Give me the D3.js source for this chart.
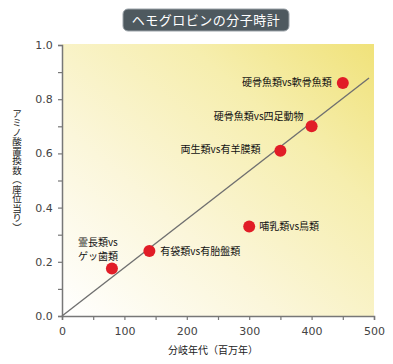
<!DOCTYPE html>
<html>
<head>
<meta charset="utf-8">
<script src="https://cdn.jsdelivr.net/npm/d3@7"></script>
<style>
  body { margin: 0; background: #fff; }
  svg { display: block; font-family: "Noto Sans CJK JP", "Noto Sans", sans-serif; }
</style>
</head>
<body>
<svg id="chart" width="393" height="364"></svg>
<script>
// comparisons (pairs of lineages)
const pairs = ["硬骨魚類vs軟骨魚類", "硬骨魚類vs四足動物", "両生類vs有羊膜類", "哺乳類vs鳥類", "有袋類vs有胎盤類", "霊長類vs\nゲッ歯類"]
const divergence = [450, 400, 350, 300, 140, 80]          // million years
const substitutions = [0.86, 0.70, 0.61, 0.33, 0.24, 0.175] // per site
const trendX = [0, 492]
const trendY = [0, 0.878]
const xTicks = [0, 100, 200, 300, 400, 500]
const yTicks = [0, 0.2, 0.4, 0.6, 0.8, 1.0]

// where each label sits relative to its dot
const labelPlace = [
    { anchor: "end", dx: -11, dy: 0 },
    { anchor: "end", dx: -8, dy: -10 },
    { anchor: "end", dx: -20, dy: -1 },
    { anchor: "start", dx: 10, dy: 0 },
    { anchor: "start", dx: 11, dy: 1 },
    { anchor: "start", dx: -34, dy: -26 }
]

const svg = d3.select("#chart")
const margin = { left: 62, right: 19, top: 45, bottom: 48 }
const width = 393 - margin.left - margin.right
const height = 364 - margin.top - margin.bottom

const x = d3.scaleLinear().domain([0, 500]).range([margin.left, margin.left + width])
const y = d3.scaleLinear().domain([0, 1]).range([margin.top + height, margin.top])

// background gradient
const defs = svg.append("defs")
const grad = defs.append("linearGradient").attr("id", "bg")
    .attr("x1", "0").attr("y1", "1").attr("x2", "1").attr("y2", "0")
grad.append("stop").attr("offset", "0").attr("stop-color", "#ffffff")
grad.append("stop").attr("offset", "0.35").attr("stop-color", "#fbf6da")
grad.append("stop").attr("offset", "0.7").attr("stop-color", "#f6eeae")
grad.append("stop").attr("offset", "1").attr("stop-color", "#f0e27a")

svg.append("rect")
    .attr("x", x(0)).attr("y", y(1) - 1)
    .attr("width", x(500) - x(0)).attr("height", y(0) - y(1) + 1)
    .attr("fill", "url(#bg)")

// title
const title = svg.append("g")
title.append("rect")
    .attr("x", 123).attr("y", 9).attr("width", 166).attr("height", 22).attr("rx", 5)
    .attr("fill", "#4e595f").attr("stroke", "#9aa2a8").attr("stroke-width", 1)
title.append("text")
    .attr("x", 206).attr("y", 24.5).attr("text-anchor", "middle")
    .attr("fill", "#fff").attr("font-size", 13).attr("letter-spacing", 0.5)
    .text("ヘモグロビンの分子時計")

// axes
const xAxis = svg.append("g").attr("transform", `translate(0,${y(0)})`)
    .call(d3.axisBottom(x).tickValues(d3.range(0, 501, 50)).tickSize(4)
        .tickFormat(d => xTicks.includes(d) ? d : ""))
const yAxis = svg.append("g").attr("transform", `translate(${x(0)},0)`)
    .call(d3.axisLeft(y).tickValues(d3.range(0, 10.5, 1).map(d => d / 10)).tickSize(4)
        .tickFormat(d => yTicks.some(t => Math.abs(t - d) < 1e-9) ? d.toFixed(1) : ""))

for (const a of [xAxis, yAxis]) {
    a.select(".domain").attr("stroke", "#777").attr("stroke-width", 1.5)
    a.selectAll(".tick line").attr("stroke", "#777").attr("stroke-width", 1.2)
    a.selectAll(".tick text").attr("fill", "#444").attr("font-size", 11)
        .attr("font-family", "'DejaVu Sans', sans-serif")
}
xAxis.selectAll(".tick text").attr("dy", "1.1em")
yAxis.selectAll(".tick text").attr("dx", "-0.2em")

// axis titles
svg.append("text")
    .attr("x", 213).attr("y", 354).attr("text-anchor", "middle")
    .attr("font-size", 10).attr("fill", "#222")
    .text("分岐年代（百万年）")
svg.append("text")
    .attr("x", 17).attr("y", 170).attr("text-anchor", "middle")
    .attr("font-size", 9.5).attr("fill", "#222")
    .style("writing-mode", "vertical-rl")
    .text("アミノ酸置換数（座位当り）")

// trend line
svg.append("line")
    .attr("x1", x(trendX[0])).attr("y1", y(trendY[0]))
    .attr("x2", x(trendX[1])).attr("y2", y(trendY[1]))
    .attr("stroke", "#707070").attr("stroke-width", 1.4)

// points
const pts = pairs.map((name, i) => ({ name, x: divergence[i], y: substitutions[i], place: labelPlace[i] }))

svg.append("g").selectAll("circle")
    .data(pts).join("circle")
    .attr("cx", d => x(d.x)).attr("cy", d => y(d.y)).attr("r", 6)
    .attr("fill", "#e11d27")

// labels, one text element per line
const labelLines = pts.flatMap(d => d.name.split("\n").map((l, k) => ({ d, l, k })))
svg.append("g").selectAll("text")
    .data(labelLines).join("text")
    .attr("x", o => x(o.d.x) + o.d.place.dx)
    .attr("y", o => y(o.d.y) + o.d.place.dy + o.k * 14)
    .attr("dy", "0.35em")
    .attr("text-anchor", o => o.d.place.anchor)
    .attr("font-size", 10).attr("fill", "#111")
    .text(o => o.l)
</script>
</body>
</html>
